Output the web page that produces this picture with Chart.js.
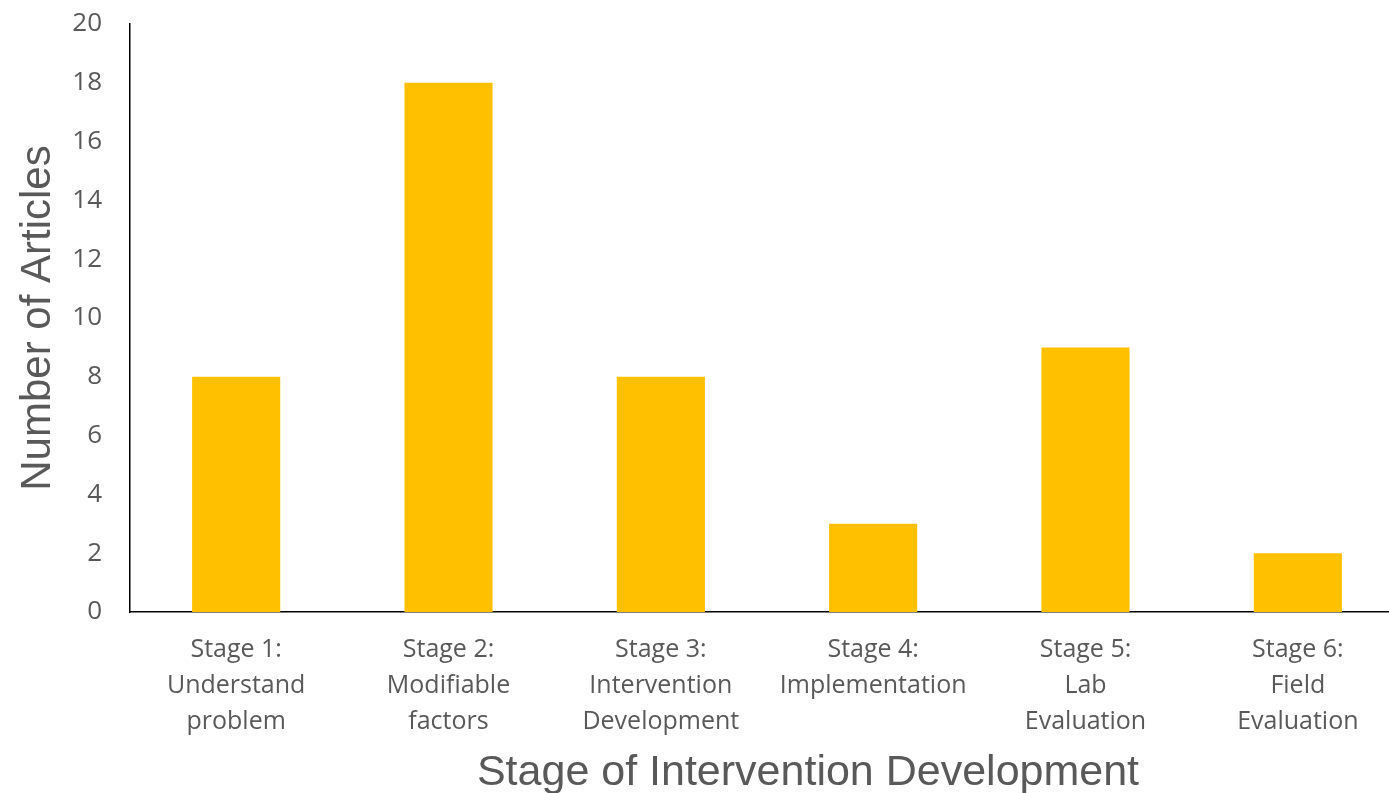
<!DOCTYPE html>
<html>
<head>
<meta charset="utf-8">
<script src="https://cdn.jsdelivr.net/npm/chart.js@4"></script>
<style>
  html, body { margin: 0; padding: 0; background: #fff; overflow: hidden; }
  #wrap { width: 1389px; height: 793px; overflow: hidden; position: relative; }
  #wrap canvas { position: absolute; left: 0; top: 0; }
</style>
</head>
<body>
<div id="wrap">
  <canvas id="grafico" width="1404" height="793" style="width:1404px;height:793px"></canvas>
</div>
<script>
    const estagios = [
        ['Stage 1:', 'Understand', 'problem'],
        ['Stage 2:', 'Modifiable', 'factors'],
        ['Stage 3:', 'Intervention', 'Development'],
        ['Stage 4:', 'Implementation'],
        ['Stage 5:', 'Lab', 'Evaluation'],
        ['Stage 6:', 'Field', 'Evaluation']
    ];
    const artigos = [8, 18, 8, 3, 9, 2];
    const tituloX = 'Stage of Intervention Development';
    const tituloY = 'Number of Articles';

    const cinza = '#595959';

    // titulo do eixo x desenhado a mao, o do chart.js fica centralizado no lugar errado
    const tituloEixoX = {
        id: 'tituloEixoX',
        afterDraw(chart) {
            const ctx = chart.ctx;
            ctx.save();
            ctx.font = '43px "Liberation Sans", Arial, sans-serif';
            ctx.fillStyle = cinza;
            ctx.textAlign = 'center';
            ctx.textBaseline = 'middle';
            ctx.fillText(tituloX, 808, 773);
            ctx.restore();
        }
    };

    const ctx = document.getElementById('grafico');
    const grafico = new Chart(ctx, {
        type: 'bar',
        data: {
            labels: estagios,
            datasets: [{
                label: tituloY,
                data: artigos,
                backgroundColor: '#FFC000',
                borderWidth: 0,
                categoryPercentage: 1,
                barPercentage: 0.415
            }]
        },
        plugins: [tituloEixoX],
        options: {
            responsive: false,
            animation: false,
            layout: {
                padding: { top: 24, bottom: 0, left: 0, right: 0 }
            },
            plugins: {
                legend: { display: false },
                tooltip: { enabled: false }
            },
            scales: {
                x: {
                    grid: { display: false, drawTicks: false },
                    border: { display: true, color: '#000', width: 1.5 },
                    ticks: {
                        color: cinza,
                        padding: 20,
                        maxRotation: 0,
                        autoSkip: false,
                        font: { family: '"Open Sans", Lato, sans-serif', size: 25, lineHeight: 1.44 }
                    },
                    afterFit(scale) {
                        scale.height = 181;
                    }
                },
                y: {
                    min: 0,
                    max: 20,
                    grid: { display: false, drawTicks: false },
                    border: { display: true, color: '#000', width: 1.5 },
                    ticks: {
                        stepSize: 2,
                        color: cinza,
                        padding: 28,
                        font: { family: '"Open Sans", Lato, sans-serif', size: 26 }
                    },
                    title: {
                        display: true,
                        text: tituloY,
                        color: cinza,
                        padding: { top: 13, bottom: 6 },
                        font: { family: '"Liberation Sans", Arial, sans-serif', size: 42, lineHeight: 1.2 }
                    },
                    afterFit(scale) {
                        scale.width = 130;
                        scale.paddingTop = 0;
                        scale.paddingBottom = 0;
                    }
                }
            }
        }
    });
</script>
</body>
</html>
